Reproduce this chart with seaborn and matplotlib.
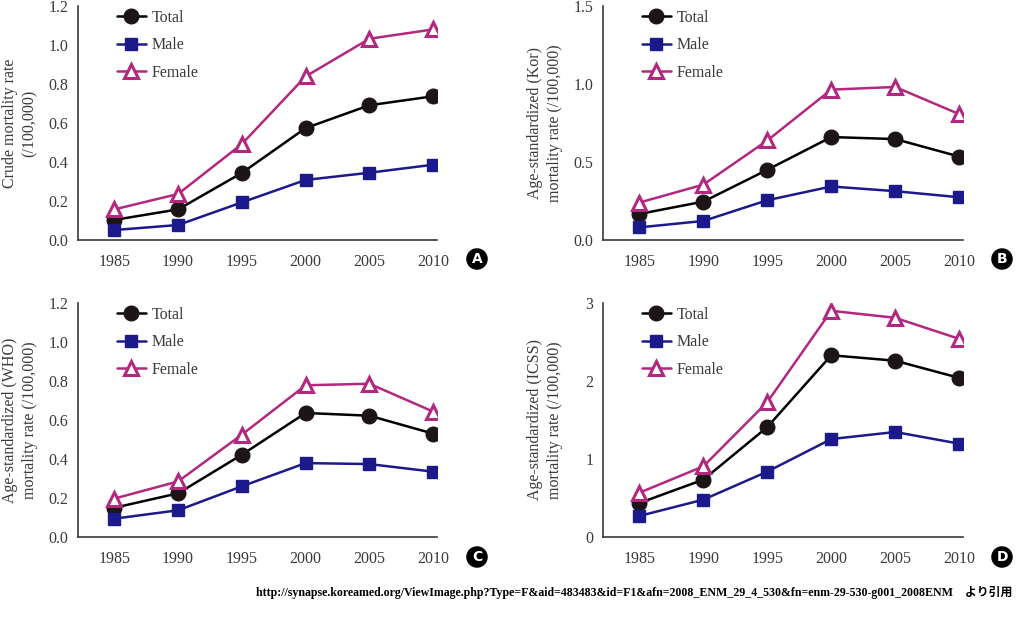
import matplotlib
matplotlib.use("Agg")
import matplotlib.pyplot as plt
import seaborn as sns
import pandas as pd

years = [1985, 1990, 1995, 2000, 2005, 2010]

# Panel A: crude mortality rate
a_total = [0.103, 0.157, 0.344, 0.574, 0.691, 0.737]
a_male = [0.051, 0.077, 0.193, 0.308, 0.345, 0.386]
a_female = [0.157, 0.236, 0.492, 0.839, 1.032, 1.080]

# Panel B: age-standardized (Kor)
b_total = [0.167, 0.246, 0.450, 0.660, 0.647, 0.535]
b_male = [0.081, 0.122, 0.255, 0.343, 0.313, 0.274]
b_female = [0.240, 0.355, 0.638, 0.964, 0.981, 0.807]

# Panel C: age-standardized (WHO)
c_total = [0.150, 0.224, 0.422, 0.636, 0.622, 0.530]
c_male = [0.094, 0.137, 0.260, 0.379, 0.374, 0.335]
c_female = [0.197, 0.285, 0.525, 0.778, 0.786, 0.643]

# Panel D: age-standardized (ICSS)
d_total = [0.436, 0.735, 1.410, 2.330, 2.260, 2.040]
d_male = [0.270, 0.479, 0.838, 1.256, 1.346, 1.197]
d_female = [0.568, 0.906, 1.730, 2.900, 2.810, 2.540]

series_names = ["Total", "Male", "Female"]
panel_letters = ["A", "B", "C", "D"]
ylabels = [
    "Crude mortality rate\n(/100,000)",
    "Age-standardized (Kor)\nmortality rate (/100,000)",
    "Age-standardized (WHO)\nmortality rate (/100,000)",
    "Age-standardized (ICSS)\nmortality rate (/100,000)",
]
yticks_list = [
    [0.0, 0.2, 0.4, 0.6, 0.8, 1.0, 1.2],
    [0.0, 0.5, 1.0, 1.5],
    [0.0, 0.2, 0.4, 0.6, 0.8, 1.0, 1.2],
    [0, 1, 2, 3],
]
ytick_fmt = ["{:.1f}", "{:.1f}", "{:.1f}", "{:.0f}"]
source_text = ("http://synapse.koreamed.org/ViewImage.php?Type=F&aid=483483&id=F1&afn="
               "2008_ENM_29_4_530&fn=enm-29-530-g001_2008ENM\u3000より引用")

panels = [
    (a_total, a_male, a_female),
    (b_total, b_male, b_female),
    (c_total, c_male, c_female),
    (d_total, d_male, d_female),
]

sns.set_style("white")
plt.rcParams["font.family"] = ["Liberation Serif", "Noto Sans CJK JP"]

W, H = 1017, 629
fig = plt.figure(figsize=(W / 100, H / 100), dpi=100)

# axes rectangles in pixels: left, top, right, bottom
rects = [
    (78, 6, 437, 240),
    (603, 6, 963, 240),
    (78, 303, 437, 537),
    (603, 303, 963, 537),
]
badge_pos = [(477, 259), (1002, 259), (477, 557), (1002, 557)]

styles = {
    "Total": dict(color="#000000", marker="o", markersize=10.5, mfc="#1c1416",
                  mec="#1c1416", mew=1.0),
    "Male": dict(color="#1c1a8a", marker="s", markersize=8, mfc="#1c1a8a",
                 mec="#1c1a8a", mew=1.0),
    "Female": dict(color="#b3287f", marker="^", markersize=10, mfc="white",
                   mec="#b3287f", mew=2.2),
}

spine_col = "#3a3a3a"
text_col = "#3a3a3a"

for i, (vals, rect) in enumerate(zip(panels, rects)):
    l, t, r, b = rect
    ax = fig.add_axes([l / W, (H - b) / H, (r - l) / W, (b - t) / H])
    for name, v in zip(series_names, vals):
        df = pd.DataFrame({"Year": years, "Rate": v})
        st = styles[name]
        sns.lineplot(data=df, x="Year", y="Rate", ax=ax, color=st["color"],
                     marker=st["marker"], markersize=st["markersize"],
                     markerfacecolor=st["mfc"], markeredgecolor=st["mec"],
                     markeredgewidth=st["mew"], linewidth=1.8, label=name,
                     zorder=3)
    ax.set_xlim(1982.15, 2010.3)
    yt = yticks_list[i]
    ax.set_ylim(0, yt[-1])
    ax.set_xticks(years)
    ax.set_xticklabels([str(y) for y in years])
    ax.set_yticks(yt)
    ax.set_yticklabels([ytick_fmt[i].format(v) for v in yt])
    ax.tick_params(axis="both", direction="in", length=4, width=1,
                   color=spine_col, labelsize=11.5, labelcolor=text_col)
    ax.tick_params(axis="x", pad=10)
    ax.tick_params(axis="y", pad=7)
    for s in ["top", "right"]:
        ax.spines[s].set_visible(False)
    for s in ["left", "bottom"]:
        ax.spines[s].set_color(spine_col)
        ax.spines[s].set_linewidth(1.2)
    ax.set_xlabel("")
    ax.set_ylabel(ylabels[i], fontsize=11.5, color=text_col, linespacing=1.3)
    ax.yaxis.set_label_coords(-0.112, 0.5)
    ax.grid(False)
    leg = ax.legend(loc="upper left", bbox_to_anchor=(0.068, 1.045),
                    frameon=False, fontsize=11.5, handlelength=1.8,
                    handletextpad=0.4, labelspacing=0.72)
    for txt in leg.get_texts():
        txt.set_color(text_col)
    bx, by = badge_pos[i]
    fig.text(bx / W, (H - by) / H, panel_letters[i], ha="center", va="center",
             color="white", fontsize=10, fontweight="bold",
             family=["DejaVu Sans"],
             bbox=dict(boxstyle="circle,pad=0.22", fc="black", ec="black"))

fig.text(1012 / W, (H - 592) / H, source_text, ha="right", va="center",
         fontsize=8.6, fontweight="bold", color="black")

fig.savefig("out.png", dpi=100)
